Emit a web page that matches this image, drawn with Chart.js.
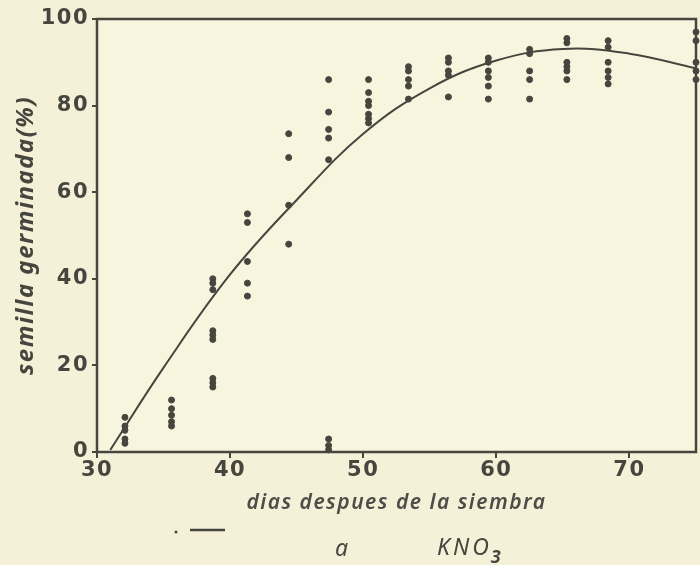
<!DOCTYPE html>
<html>
<head>
<meta charset="utf-8">
<script src="https://cdn.jsdelivr.net/npm/chart.js@4"></script>
<style>
	html, body { margin: 0; padding: 0; background: #f5f1d9; }
	#wrap { width: 700px; height: 565px; }
</style>
</head>
<body>
<div id="wrap"><canvas id="chart" width="700" height="565"></canvas></div>
<script>
// dias de muestreo (columnas de puntos)
var dayCols = [32.1, 35.6, 38.7, 41.3, 44.4, 47.4, 50.4, 53.4, 56.4, 59.4, 62.5, 65.3, 68.4, 75];
// semilla germinada (%) en cada columna
var germCols = [
	[8, 6, 5, 3, 2],
	[12, 10, 8.5, 7, 6],
	[40, 39, 37.5, 28, 27, 26, 17, 16, 15],
	[55, 53, 44, 39, 36],
	[73.5, 68, 57, 48],
	[86, 78.5, 74.5, 72.5, 67.5, 3, 1.5, 0.5],
	[86, 83, 81, 80, 78, 77, 76],
	[89, 88, 86, 84.5, 81.5],
	[91, 90, 88, 87, 82],
	[91, 90, 88, 86.5, 84.5, 81.5],
	[93, 92, 88, 86, 81.5],
	[95.5, 94.5, 90, 89, 88, 86],
	[95, 93.5, 90, 88, 86.5, 85],
	[97, 95, 90, 88, 86]
];
// curva ajustada
var curveDays = [31, 35, 40, 45, 50, 55, 60, 65, 70, 75];
var curveGerm = [0.5, 19.5, 41, 58.2, 73.5, 84, 90.4, 93.1, 92, 88.6];

var xTicks = [30, 40, 50, 60, 70];
var yTicks = [0, 20, 40, 60, 80, 100];

var ink = '#46463f';

var points = [];
dayCols.forEach(function (d, i) {
	germCols[i].forEach(function (g) {
		points.push({x: d, y: g});
	});
});

var curve = curveDays.map(function (d, i) {
	return {x: d, y: curveGerm[i]};
});

var paperPlugin = {
	id: 'paper',
	beforeDraw: function (chart) {
		var ctx = chart.ctx;
		ctx.fillStyle = '#f5f1d9';
		ctx.fillRect(0, 0, chart.width, chart.height);
		var a = chart.chartArea;
		ctx.fillStyle = '#f8f5df';
		ctx.fillRect(a.left, a.top, a.right - a.left, a.bottom - a.top);
		ctx.letterSpacing = '1.5px';
	},
	beforeDatasetsDraw: function (chart) {
		var ctx = chart.ctx;
		var a = chart.chartArea;
		ctx.save();
		ctx.strokeStyle = ink;
		ctx.lineWidth = 2.5;
		ctx.strokeRect(a.left, a.top, a.right - a.left, a.bottom - a.top);
		ctx.restore();
	},
	afterDraw: function (chart) {
		var ctx = chart.ctx;
		ctx.save();
		ctx.fillStyle = ink;
		ctx.strokeStyle = ink;
		// marca de leyenda
		ctx.beginPath();
		ctx.arc(176, 532, 1.5, 0, Math.PI * 2);
		ctx.fill();
		ctx.lineWidth = 2.5;
		ctx.beginPath();
		ctx.moveTo(190, 530);
		ctx.lineTo(225, 530);
		ctx.stroke();
		ctx.letterSpacing = '3px';
		ctx.font = 'italic 23px "Noto Sans"';
		ctx.textBaseline = 'alphabetic';
		ctx.fillText('a', 335, 556);
		ctx.fillText('KNO', 437, 555);
		var w = ctx.measureText('KNO').width;
		ctx.font = 'italic bold 18px "Noto Sans"';
		ctx.fillText('3', 437 + w - 1, 563);
		ctx.restore();
	}
};

new Chart(document.getElementById('chart'), {
	type: 'scatter',
	data: {
		datasets: [{
			label: 'semilla',
			data: points,
			backgroundColor: ink,
			borderColor: ink,
			pointRadius: 3,
			pointHoverRadius: 3,
			clip: false
		}, {
			label: 'ajuste',
			type: 'line',
			data: curve,
			borderColor: ink,
			borderWidth: 2,
			pointRadius: 0,
			fill: false,
			tension: 0.4,
			clip: true
		}]
	},
	plugins: [paperPlugin],
	options: {
		responsive: false,
		animation: false,
		layout: {
			padding: {top: 19, right: 4, left: 10, bottom: 49}
		},
		scales: {
			x: {
				type: 'linear',
				min: 30,
				max: 75,
				afterBuildTicks: function (s) {
					s.ticks = xTicks.map(function (v) { return {value: v}; });
				},
				afterFit: function (s) {
					s.height = 64;
				},
				grid: {
					drawOnChartArea: false,
					drawTicks: true,
					tickLength: 6,
					color: ink,
					lineWidth: 2
				},
				border: {display: false},
				ticks: {
					color: ink,
					padding: 0,
					font: {family: '"DejaVu Sans"', size: 21, weight: 'bold'}
				},
				title: {
					display: true,
					text: 'dias despues de la siembra',
					color: '#4e4e48',
					padding: {top: 4, bottom: 0},
					font: {family: '"Noto Sans"', size: 21, style: 'italic', weight: '600'}
				}
			},
			y: {
				min: 0,
				max: 100,
				afterBuildTicks: function (s) {
					s.ticks = yTicks.map(function (v) { return {value: v}; });
				},
				afterFit: function (s) {
					s.width = 87;
				},
				grid: {
					drawOnChartArea: false,
					drawTicks: true,
					tickLength: 5,
					color: ink,
					lineWidth: 2
				},
				border: {display: false},
				ticks: {
					color: ink,
					padding: 3,
					font: {family: '"DejaVu Sans"', size: 21, weight: 'bold'}
				},
				title: {
					display: true,
					text: 'semilla germinada(%)',
					color: ink,
					padding: {top: 2, bottom: 0},
					font: {family: '"Noto Sans"', size: 24, style: 'italic', weight: 'bold'}
				}
			}
		},
		plugins: {
			legend: {display: false},
			tooltip: {enabled: false}
		}
	}
});
</script>
</body>
</html>
